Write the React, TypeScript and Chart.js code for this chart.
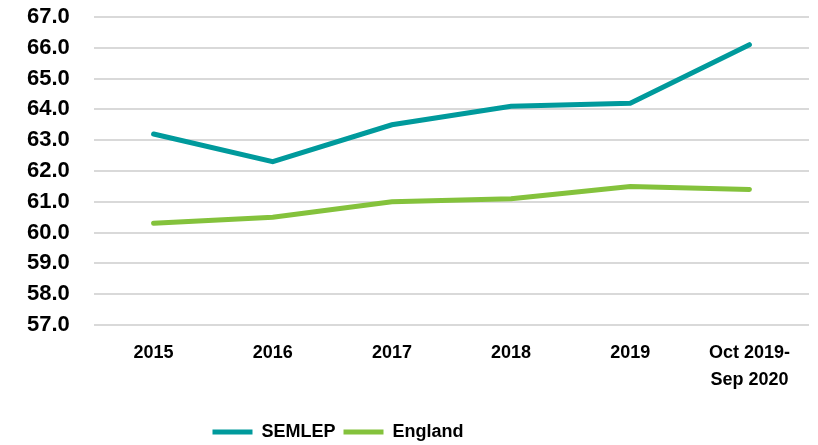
import React, { useEffect, useRef } from "react";
import { Chart, registerables } from "chart.js";

Chart.register(...registerables);

const categories: (string | string[])[] = ["2015", "2016", "2017", "2018", "2019", ["Oct 2019-", "Sep 2020"]];
const semlep = [63.2, 62.3, 63.5, 64.1, 64.2, 66.1];
const england = [60.3, 60.5, 61.0, 61.1, 61.5, 61.4];
const yMin = 57;
const yMax = 67;
const yStep = 1;

const TEAL = "#009a9c";
const GREEN = "#84c23c";
const FONT = "'Liberation Sans', Arial, sans-serif";

const legendShift = {
  id: "legendShift",
  afterLayout(chart: any) {
    const lg = chart.legend;
    if (!lg) return;
    lg.left -= 80;
    lg.right -= 80;
    lg.top += 6;
    lg.bottom += 6;
  },
};

export default function App() {
  const ref = useRef<HTMLCanvasElement | null>(null);
  useEffect(() => {
    if (!ref.current) return;
    const chart = new Chart(ref.current, {
      type: "line",
      data: {
        labels: categories,
        datasets: [
          {
            label: "SEMLEP",
            data: semlep,
            borderColor: TEAL,
            backgroundColor: TEAL,
            borderWidth: 5,
            pointRadius: 0,
            borderCapStyle: "round",
            tension: 0,
          },
          {
            label: "England",
            data: england,
            borderColor: GREEN,
            backgroundColor: GREEN,
            borderWidth: 5,
            pointRadius: 0,
            borderCapStyle: "round",
            tension: 0,
          },
        ],
      },
      plugins: [legendShift],
      options: {
        animation: false,
        responsive: true,
        maintainAspectRatio: false,
        layout: { padding: { top: 17, right: 9, left: 27, bottom: 0 } },
        plugins: {
          tooltip: { enabled: false },
          legend: {
            position: "bottom",
            labels: {
              boxWidth: 40,
              boxHeight: 5,
              padding: 8,
              color: "#000",
              font: { family: FONT, size: 18, weight: "bold" },
              generateLabels: (c: any) =>
                Chart.defaults.plugins.legend.labels
                  .generateLabels(c)
                  .map((l: any) => ({ ...l, lineWidth: 0, fillStyle: l.strokeStyle })),
            },
          },
        },
        scales: {
          x: {
            offset: true,
            grid: { display: false, drawTicks: false },
            border: { display: false },
            ticks: {
              color: "#000",
              padding: 15,
              maxRotation: 0,
              autoSkip: false,
              font: { family: FONT, size: 18, weight: "bold", lineHeight: 1.5 },
            },
          },
          y: {
            min: yMin,
            max: yMax,
            grid: { color: "#d9d9d9", lineWidth: 2, drawTicks: false },
            border: { display: false },
            afterFit: (s: any) => {
              s.width = 67;
            },
            ticks: {
              stepSize: yStep,
              autoSkip: false,
              color: "#000",
              padding: 0,
              crossAlign: "far",
              font: { family: FONT, size: 22, weight: "bold" },
              callback: (v: any) => Number(v).toFixed(1),
            },
          },
        },
      },
    });
    return () => chart.destroy();
  }, []);
  return (
    <div style={{ position: "fixed", left: 0, top: 0, width: 818, height: 445, background: "#fff" }}>
      <canvas ref={ref} />
    </div>
  );
}
